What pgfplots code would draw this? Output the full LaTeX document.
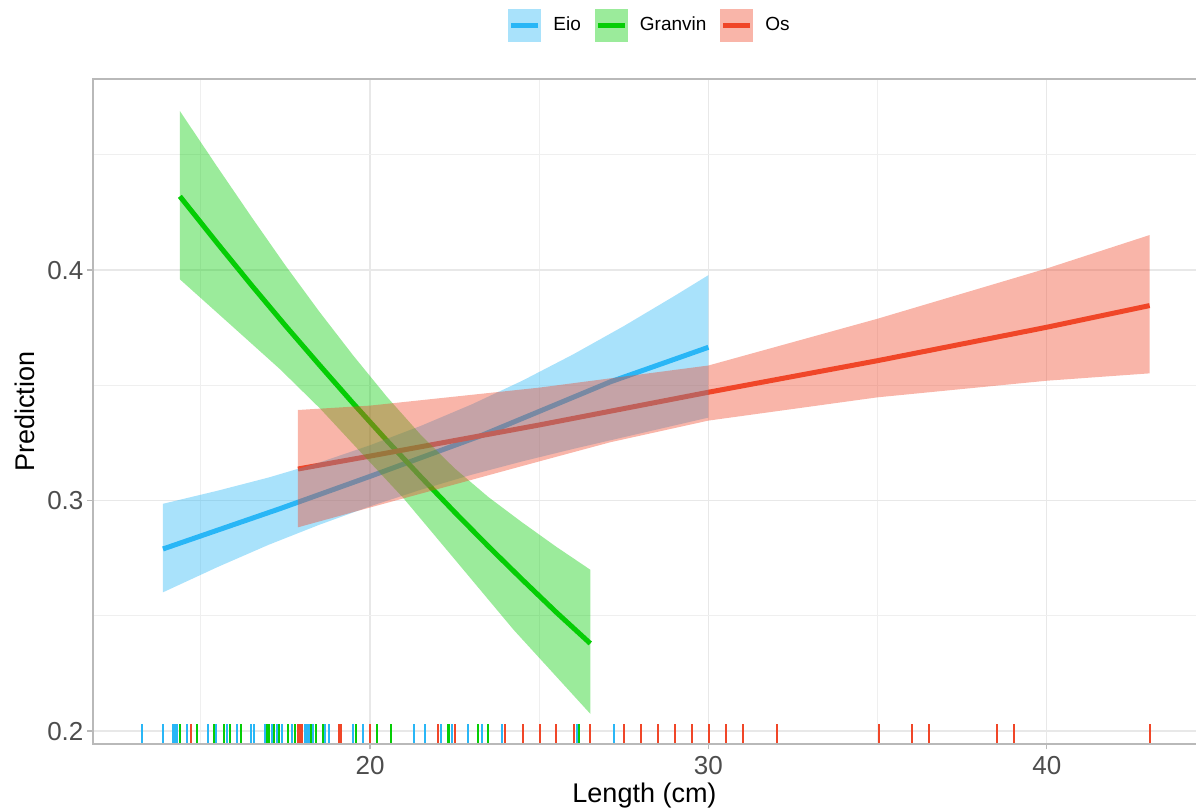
\documentclass[border=0pt]{standalone}
\usepackage{pgfplots}
\pgfplotsset{compat=1.18}
\usepackage{fontspec}
\setmainfont{Liberation Sans}
\definecolor{eio}{RGB}{41,182,246}
\definecolor{gran}{RGB}{5,205,5}
\definecolor{os}{RGB}{240,70,40}
\definecolor{gridc}{RGB}{232,232,232}
\definecolor{borderc}{RGB}{185,185,185}
\definecolor{tickc}{RGB}{77,77,77}
\begin{document}
\begin{tikzpicture}
\begin{axis}[
 name=ax,
 scale only axis, width=551.5pt, height=332.5pt,
 xmin=11.813, xmax=44.41, ymin=0.1944, ymax=0.4829,
 xtick={20,30,40}, xticklabels={20,30,40},
 ytick={0.2,0.3,0.4}, yticklabels={0.2,0.3,0.4},
 minor xtick={15,25,35}, minor ytick={0.25,0.35,0.45},
 grid=both,
 major grid style={gridc, line width=0.6pt},
 minor grid style={gridc!70, line width=0.35pt},
 axis line style={draw=none},
 tick pos=left, tick align=outside,
 major tick length=2.75pt, minor tick length=0pt,
 tick style={borderc, line width=0.6pt},
 ticklabel style={font=\fontsize{13}{15}\selectfont, text=tickc},
 yticklabel style={xshift=1.5pt},
 xlabel={Length (cm)}, ylabel={Prediction},
 label style={font=\fontsize{13.5}{16}\selectfont},
 xlabel style={at={(axis description cs:0.5,0)}, anchor=center, yshift=-26pt},
 ylabel style={at={(axis description cs:-0.0617,0.5)}, anchor=center},
 legend style={at={(axis description cs:0.506,1.081)}, anchor=center, draw=none, fill=none,
   legend columns=3, font=\fontsize{9.5}{11}\selectfont,
   /tikz/every odd column/.append style={column sep=4pt},
   /tikz/every even column/.append style={column sep=5pt}},
]
\addlegendimage{legend image code/.code={\path[fill=eio, fill opacity=0.4, draw=none] (0pt,-8.25pt) rectangle (16.5pt,8.25pt); \draw[eio, line width=2.5pt] (1.5pt,0pt) -- (15pt,0pt);}}
\addlegendentry{Eio}
\addlegendimage{legend image code/.code={\path[fill=gran, fill opacity=0.4, draw=none] (0pt,-8.25pt) rectangle (16.5pt,8.25pt); \draw[gran, line width=2.5pt] (1.5pt,0pt) -- (15pt,0pt);}}
\addlegendentry{Granvin}
\addlegendimage{legend image code/.code={\path[fill=os, fill opacity=0.4, draw=none] (0pt,-8.25pt) rectangle (16.5pt,8.25pt); \draw[os, line width=2.5pt] (1.5pt,0pt) -- (15pt,0pt);}}
\addlegendentry{Os}

% rugs
\addplot[ycomb, no marks, eio, line width=1pt, forget plot] coordinates {
(13.27,0.203) (13.89,0.203) (14.18,0.203) (14.24,0.203) (14.30,0.203) (14.58,0.203)
(15.20,0.203) (15.46,0.203) (15.78,0.203) (16.06,0.203) (16.47,0.203) (16.57,0.203)
(16.89,0.203) (17.09,0.203) (17.24,0.203) (17.39,0.203) (17.69,0.203) (18.07,0.203)
(18.13,0.203) (18.19,0.203) (18.32,0.203) (18.67,0.203) (18.79,0.203) (19.51,0.203)
(19.80,0.203) (21.31,0.203) (21.61,0.203) (22.09,0.203) (22.42,0.203) (22.91,0.203)
(23.31,0.203) (23.91,0.203) (26.11,0.203) (27.22,0.203)};
\addplot[ycomb, no marks, gran, line width=1pt, forget plot] coordinates {
(14.38,0.203) (14.89,0.203) (15.38,0.203) (15.69,0.203) (15.86,0.203) (16.18,0.203)
(16.96,0.203) (17.02,0.203) (17.16,0.203) (17.31,0.203) (17.59,0.203) (17.79,0.203)
(18.25,0.203) (18.39,0.203) (18.60,0.203) (19.59,0.203) (20.22,0.203) (20.61,0.203)
(22.30,0.203) (22.34,0.203) (23.20,0.203) (23.50,0.203) (26.18,0.203)};
\addplot[ycomb, no marks, os, line width=1pt, forget plot] coordinates {
(14.70,0.203) (17.87,0.203) (17.93,0.203) (17.99,0.203) (19.08,0.203) (19.15,0.203)
(20.00,0.203) (22.00,0.203) (22.51,0.203) (23.99,0.203) (24.51,0.203) (25.01,0.203)
(25.50,0.203) (26.02,0.203) (26.51,0.203) (27.51,0.203) (28.01,0.203) (28.51,0.203)
(29.01,0.203) (29.51,0.203) (30.01,0.203) (30.51,0.203) (31.01,0.203) (32.03,0.203)
(35.03,0.203) (36.02,0.203) (36.52,0.203) (38.54,0.203) (39.03,0.203) (43.04,0.203)};

% lines
\addplot[eio, line width=2.5pt, no marks, forget plot] coordinates {
(13.88,0.279) (17.34,0.2965) (20,0.3105) (23.25,0.328) (27.1,0.3515) (30,0.3665)};
\addplot[gran, line width=2.5pt, no marks, forget plot] coordinates {
(14.38,0.432) (15.5,0.4114) (16.5,0.3934) (17.5,0.3759) (18.5,0.3589) (19.5,0.3422)
(20.5,0.3260) (21.5,0.3103) (22.5,0.2950) (23.5,0.2801) (24.5,0.2657) (25.5,0.2516) (26.51,0.238)};
\addplot[os, line width=2.5pt, no marks, forget plot] coordinates {
(17.87,0.3137) (20,0.3193) (25,0.3328) (30,0.347) (35,0.3607) (40,0.3752) (43.04,0.3846)};

% ribbons
\addplot[draw=none, fill=eio, fill opacity=0.4, forget plot] coordinates {
(13.88,0.2986) (15.5,0.3043) (17,0.3100) (18.5,0.3165) (20,0.3240) (21.5,0.3324) (23,0.3417)
(24.5,0.3520) (26,0.3634) (27.5,0.3757) (29,0.3888) (30,0.3978)
(30,0.3360) (29,0.3326) (27.5,0.3275) (26,0.3224) (24.5,0.3170) (23,0.3112) (21.5,0.3047)
(20,0.2975) (18.5,0.2895) (17,0.2808) (15.5,0.2712) (13.88,0.2602)} -- cycle;
\addplot[draw=none, fill=gran, fill opacity=0.4, forget plot] coordinates {
(14.38,0.469) (15.5,0.4445) (16.5,0.4230) (17.5,0.4020) (18.5,0.3820) (19.5,0.3630) (20.5,0.3450)
(21.5,0.3285) (22.5,0.3140) (23.5,0.3015) (24.5,0.2905) (25.5,0.2800) (26.51,0.2700)
(26.51,0.2075) (24.24,0.244) (22.6,0.2728) (20.99,0.301) (18.52,0.340) (17.34,0.357) (15.9,0.376) (14.38,0.396)} -- cycle;
\addplot[draw=none, fill=os, fill opacity=0.4, forget plot] coordinates {
(17.87,0.3393) (20,0.3412) (25,0.349) (30,0.3586) (35,0.3789) (40,0.4007) (43.04,0.4152)
(43.04,0.3552) (40,0.352) (35,0.3448) (30,0.3347) (27.1,0.3253) (25,0.317) (20,0.297) (17.87,0.2884)} -- cycle;
\end{axis}
\draw[borderc, line width=0.7pt] (ax.south east) -- (ax.south west) -- (ax.north west) -- (ax.north east);
\pgfresetboundingbox
\path[use as bounding box] (ax.south west) ++(-46.5pt,-32.5pt) rectangle ++(598pt,404.5pt);
\end{tikzpicture}
\end{document}
